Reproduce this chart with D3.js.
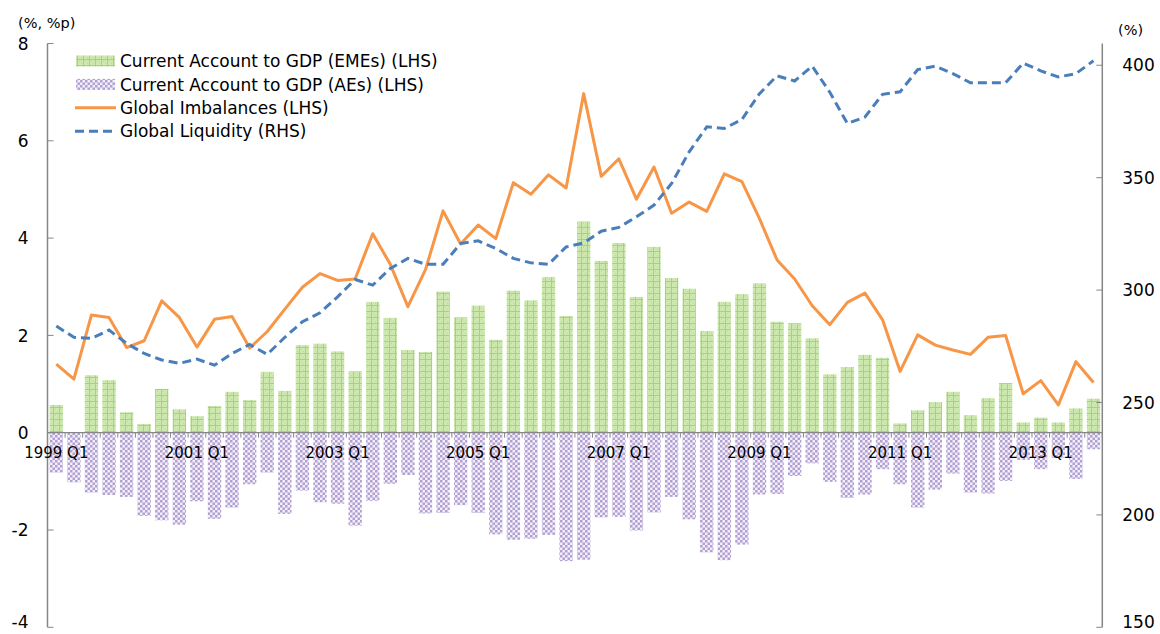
<!DOCTYPE html>
<html>
<head>
<meta charset="utf-8">
<script src="https://cdn.jsdelivr.net/npm/d3@7"></script>
<style>
  body { margin: 0; background: #fff; }
  svg text { font-family: "DejaVu Sans", Verdana, sans-serif; fill: #000; }
</style>
</head>
<body>
<div id="chart"></div>
<script>
// quarters 1999 Q1 .. 2013 Q4
const years = d3.range(1999, 2014);
const categories = [];
years.forEach(y => ['Q1', 'Q2', 'Q3', 'Q4'].forEach(q => categories.push(y + ' ' + q)));
const tickLabels = ['1999 Q1', '2001 Q1', '2003 Q1', '2005 Q1', '2007 Q1', '2009 Q1', '2011 Q1', '2013 Q1'];

// Current account to GDP, EMEs (LHS)
const emes = [0.57, 0, 1.18, 1.08, 0.42, 0.18, 0.90, 0.48, 0.34, 0.55,
  0.84, 0.67, 1.25, 0.86, 1.80, 1.83, 1.67, 1.26, 2.69, 2.36,
  1.70, 1.66, 2.90, 2.37, 2.61, 1.91, 2.92, 2.72, 3.20, 2.40,
  4.34, 3.53, 3.90, 2.79, 3.82, 3.18, 2.96, 2.09, 2.69, 2.85,
  3.07, 2.28, 2.25, 1.94, 1.20, 1.35, 1.60, 1.54, 0.19, 0.46,
  0.63, 0.84, 0.36, 0.71, 1.02, 0.21, 0.31, 0.21, 0.50, 0.70];

// Current account to GDP, AEs (LHS)
const aes = [-0.82, -1.02, -1.23, -1.28, -1.32, -1.71, -1.80, -1.89, -1.41, -1.77,
  -1.54, -1.06, -0.82, -1.67, -1.19, -1.43, -1.46, -1.91, -1.40, -1.05,
  -0.87, -1.66, -1.65, -1.49, -1.65, -2.09, -2.20, -2.18, -2.10, -2.64,
  -2.61, -1.74, -1.73, -2.01, -1.64, -1.32, -1.78, -2.46, -2.62, -2.30,
  -1.27, -1.26, -0.89, -0.63, -1.01, -1.34, -1.27, -0.75, -1.06, -1.54,
  -1.17, -0.84, -1.23, -1.25, -0.99, -0.56, -0.75, -0.52, -0.95, -0.34];

// Global imbalances (LHS)
const imbalances = [1.41, 1.10, 2.42, 2.37, 1.75, 1.89, 2.71, 2.37, 1.76, 2.33,
  2.39, 1.74, 2.08, 2.54, 2.99, 3.27, 3.13, 3.16, 4.09, 3.46,
  2.59, 3.35, 4.56, 3.88, 4.27, 3.99, 5.14, 4.90, 5.30, 5.03,
  6.97, 5.27, 5.63, 4.80, 5.46, 4.51, 4.74, 4.55, 5.32, 5.16,
  4.40, 3.55, 3.16, 2.61, 2.22, 2.68, 2.87, 2.32, 1.26, 2.01,
  1.80, 1.70, 1.61, 1.96, 2.00, 0.80, 1.07, 0.57, 1.46, 1.03];

// Global liquidity (RHS)
const liquidity = [284.0, 279.0, 278.5, 282.2, 276.3, 271.8, 268.9, 267.4, 269.3, 266.6,
  271.8, 275.8, 271.4, 279.0, 285.9, 289.9, 297.0, 304.7, 302.2, 309.6,
  314.1, 311.5, 311.5, 320.7, 321.9, 318.5, 314.1, 312.1, 311.5, 319.2,
  321.0, 326.2, 327.9, 332.6, 337.8, 347.4, 361.5, 372.6, 371.9, 375.9,
  387.4, 395.3, 393.0, 399.6, 388.0, 374.1, 377.0, 387.1, 388.2, 398.1,
  399.6, 396.3, 392.2, 392.2, 392.2, 401.0, 397.5, 394.8, 396.3, 402.0];

const legendItems = [
  { label: 'Current Account to GDP (EMEs) (LHS)', type: 'green' },
  { label: 'Current Account to GDP (AEs) (LHS)', type: 'purple' },
  { label: 'Global Imbalances (LHS)', type: 'orange' },
  { label: 'Global Liquidity (RHS)', type: 'blue' }
];

const W = 1160, H = 634;
const plot = { left: 47.5, right: 1102.3, top: 43.5, bottom: 627.3 };
const axisColor = '#868686';

const svg = d3.select('#chart').append('svg')
  .attr('width', W)
  .attr('height', H);

svg.append('rect').attr('width', W).attr('height', H).attr('fill', '#fff');

// fill patterns
const defs = svg.append('defs');
const pg = defs.append('pattern')
  .attr('id', 'pat-green')
  .attr('patternUnits', 'userSpaceOnUse')
  .attr('width', 6).attr('height', 6);
pg.append('rect').attr('width', 6).attr('height', 6).attr('fill', '#cde9b0');
pg.append('rect').attr('x', 0).attr('y', 5).attr('width', 6).attr('height', 1).attr('fill', '#a4d477');
pg.append('rect').attr('x', 5).attr('y', 0).attr('width', 1).attr('height', 6).attr('fill', '#a4d477');
pg.append('rect').attr('x', 1).attr('y', 1).attr('width', 1).attr('height', 1).attr('fill', '#b6dd92');
pg.append('rect').attr('x', 3).attr('y', 3).attr('width', 1).attr('height', 1).attr('fill', '#b6dd92');

const pp = defs.append('pattern')
  .attr('id', 'pat-purple')
  .attr('patternUnits', 'userSpaceOnUse')
  .attr('width', 5).attr('height', 5);
pp.append('rect').attr('width', 5).attr('height', 5).attr('fill', '#f3effa');
pp.append('rect').attr('x', 0).attr('y', 0).attr('width', 2.5).attr('height', 2.5).attr('fill', '#b3a0d2');
pp.append('rect').attr('x', 2.5).attr('y', 2.5).attr('width', 2.5).attr('height', 2.5).attr('fill', '#b3a0d2');

// scales
const x = d3.scaleBand()
  .domain(categories)
  .range([plot.left, plot.right])
  .paddingInner(0.24)
  .paddingOuter(0.12);

const step = x.step();
const cx = d => x(d) + x.bandwidth() / 2;

const yL = d3.scaleLinear().domain([-4, 8]).range([plot.bottom, plot.top]);
const yR = d3.scaleLinear().domain([150, 410]).range([plot.bottom, plot.top - 0.7]);

// bars
svg.append('g').selectAll('rect')
  .data(aes)
  .enter()
  .append('rect')
  .attr('x', (d, i) => x(categories[i]))
  .attr('y', yL(0))
  .attr('width', x.bandwidth())
  .attr('height', d => yL(d) - yL(0))
  .attr('fill', 'url(#pat-purple)');

svg.append('g').selectAll('rect')
  .data(emes)
  .enter()
  .append('rect')
  .attr('x', (d, i) => x(categories[i]))
  .attr('y', d => yL(d))
  .attr('width', x.bandwidth())
  .attr('height', d => yL(0) - yL(d))
  .attr('fill', 'url(#pat-green)');

// keep the lowest labels inside the frame
const labelY = y => Math.min(y, H - 12);

// left axis
const gL = svg.append('g').attr('transform', `translate(${plot.left},0)`);
gL.append('line')
  .attr('y1', plot.top).attr('y2', plot.bottom)
  .attr('stroke', axisColor).attr('stroke-width', 1.5);
[-4, -2, 0, 2, 4, 6, 8].forEach(v => {
  gL.append('line')
    .attr('x1', 0).attr('x2', 6)
    .attr('y1', yL(v)).attr('y2', yL(v))
    .attr('stroke', axisColor).attr('stroke-width', 1);
  gL.append('text')
    .attr('x', -19)
    .attr('y', labelY(yL(v)))
    .attr('dy', '0.36em')
    .attr('text-anchor', 'end')
    .attr('font-size', '17px')
    .text(v);
});

// right axis
const gR = svg.append('g').attr('transform', `translate(${plot.right},0)`);
gR.append('line')
  .attr('y1', plot.top).attr('y2', plot.bottom)
  .attr('stroke', axisColor).attr('stroke-width', 1.5);
[150, 200, 250, 300, 350, 400].forEach(v => {
  gR.append('line')
    .attr('x1', -6).attr('x2', 0)
    .attr('y1', yR(v)).attr('y2', yR(v))
    .attr('stroke', axisColor).attr('stroke-width', 1);
  gR.append('text')
    .attr('x', 20)
    .attr('y', labelY(yR(v)))
    .attr('dy', '0.36em')
    .attr('text-anchor', 'start')
    .attr('font-size', '17px')
    .text(v);
});

// category axis on zero line
const gX = svg.append('g');
gX.append('line')
  .attr('x1', plot.left).attr('x2', plot.right)
  .attr('y1', yL(0)).attr('y2', yL(0))
  .attr('stroke', axisColor).attr('stroke-width', 1.2);
d3.range(categories.length + 1).forEach(i => {
  const tx = plot.left + i * step;
  gX.append('line')
    .attr('x1', tx).attr('x2', tx)
    .attr('y1', yL(0)).attr('y2', yL(0) + 5)
    .attr('stroke', axisColor).attr('stroke-width', 1);
});
tickLabels.forEach(lbl => {
  gX.append('text')
    .attr('x', cx(lbl))
    .attr('y', yL(0) + 20)
    .attr('dy', '0.36em')
    .attr('text-anchor', 'middle')
    .attr('font-size', '15px')
    .text(lbl);
});

// unit labels
svg.append('text')
  .attr('x', 18).attr('y', 23).attr('dy', '0.36em')
  .attr('font-size', '14.5px')
  .text('(%, %p)');
svg.append('text')
  .attr('x', 1118).attr('y', 30).attr('dy', '0.36em')
  .attr('font-size', '14.5px')
  .text('(%)');

// lines
const lineL = d3.line()
  .x((d, i) => cx(categories[i]))
  .y(d => yL(d));
const lineR = d3.line()
  .x((d, i) => cx(categories[i]))
  .y(d => yR(d));

svg.append('path')
  .datum(imbalances)
  .attr('d', lineL)
  .attr('fill', 'none')
  .attr('stroke', '#f79646')
  .attr('stroke-width', 3)
  .attr('stroke-linejoin', 'round');

svg.append('path')
  .datum(liquidity)
  .attr('d', lineR)
  .attr('fill', 'none')
  .attr('stroke', '#4a7ebb')
  .attr('stroke-width', 3)
  .attr('stroke-dasharray', '9,5');

// legend
const legend = svg.append('g');
legendItems.forEach((item, i) => {
  const ly = 61 + i * 23.4;
  if (item.type === 'green' || item.type === 'purple') {
    legend.append('rect')
      .attr('x', 76).attr('y', ly - 5.5)
      .attr('width', 39).attr('height', 11)
      .attr('fill', item.type === 'green' ? 'url(#pat-green)' : 'url(#pat-purple)');
  } else {
    legend.append('line')
      .attr('x1', 75).attr('x2', 116)
      .attr('y1', ly).attr('y2', ly)
      .attr('stroke', item.type === 'orange' ? '#f79646' : '#4a7ebb')
      .attr('stroke-width', 3)
      .attr('stroke-dasharray', item.type === 'blue' ? '9,5' : null);
  }
  legend.append('text')
    .attr('x', 120)
    .attr('y', ly)
    .attr('dy', '0.36em')
    .attr('font-size', '17px')
    .text(item.label);
});
</script>
</body>
</html>
